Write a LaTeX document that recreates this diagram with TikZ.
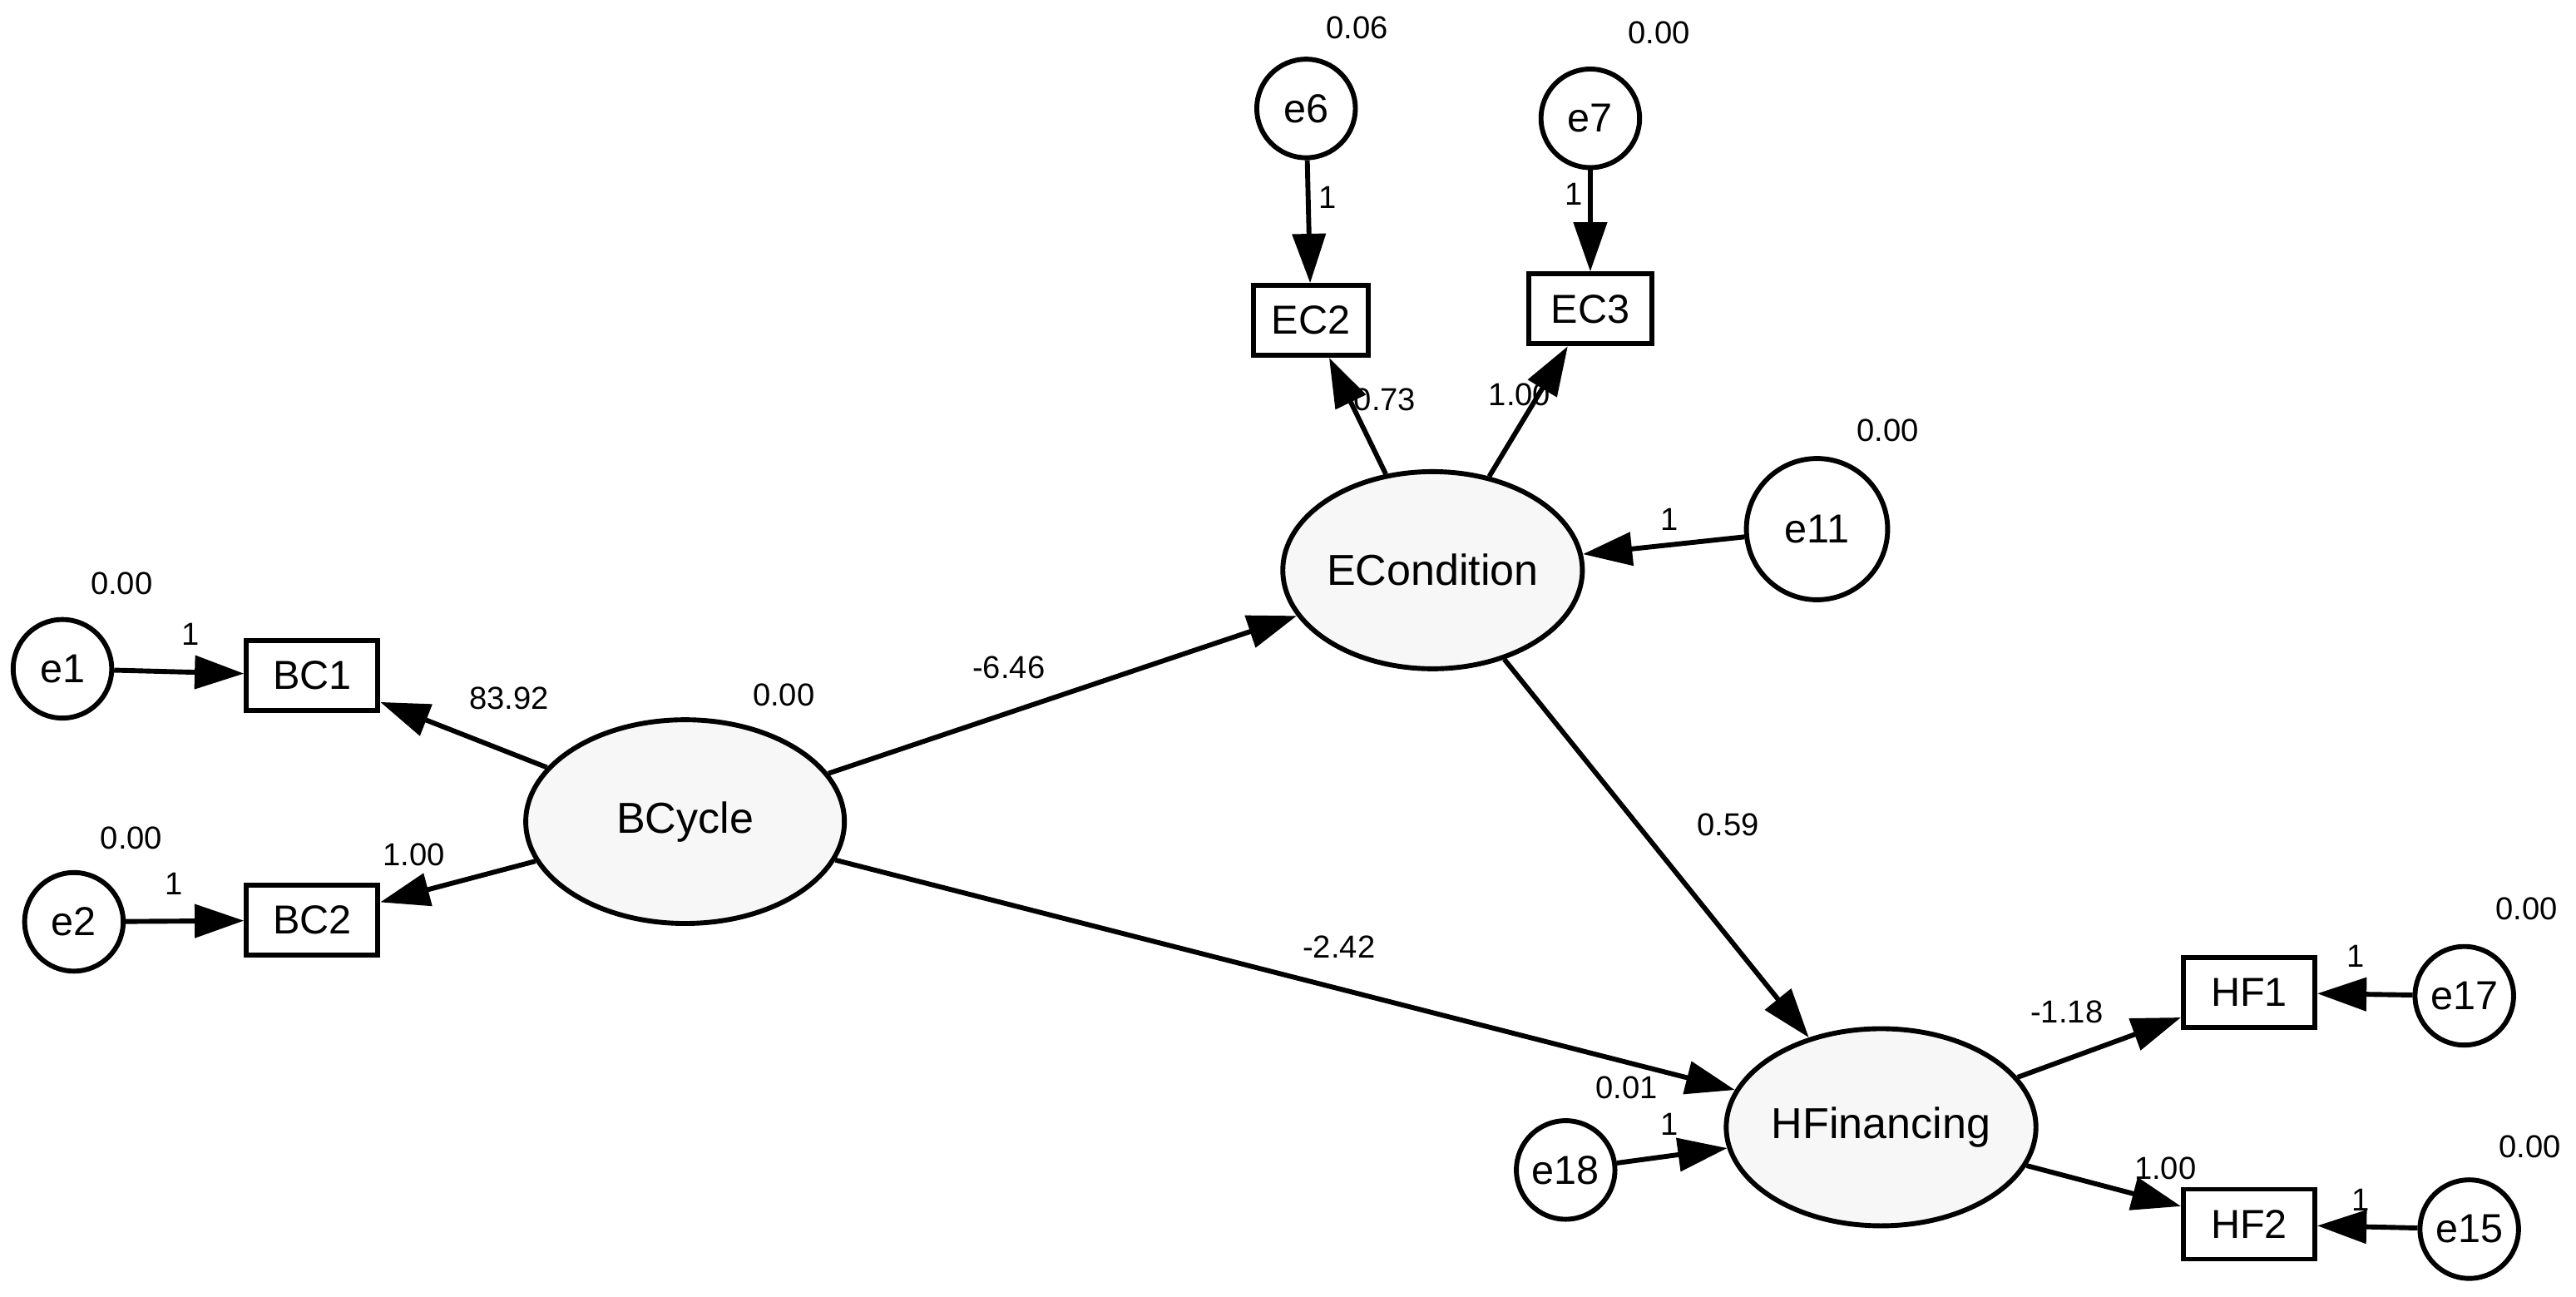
\documentclass[tikz,border=0pt]{standalone}
\usepackage{fontspec}
\setmainfont{Liberation Sans}
\usetikzlibrary{arrows.meta,shapes.geometric}

\tikzset{
  err/.style={circle, draw, line width=1.7pt, fill=white, minimum size=1.2cm, inner sep=0pt, font=\fontsize{14}{16}\selectfont},
  obs/.style={rectangle, draw, line width=1.7pt, fill=white, minimum width=1.6cm, minimum height=0.85cm, inner sep=0pt, font=\fontsize{14}{16}\selectfont},
  lat/.style={ellipse, draw, line width=1.7pt, fill=black!3, inner sep=0pt, font=\fontsize{15}{17}\selectfont},
  arr/.style={line width=1.7pt, -{Triangle[length=0.6cm,width=0.4cm]}},
  lbl/.style={font=\fontsize{11}{13}\selectfont, inner sep=0pt}
}

\begin{document}
\begin{tikzpicture}[x=0.02cm, y=-0.02cm]
  \useasboundingbox (0,0) rectangle (1568,789.3);

  % latent variables
  \node[lat, minimum width=3.88cm, minimum height=2.48cm] (bcycle) at (417,500) {BCycle};
  \node[lat, minimum width=3.44cm, minimum height=2.4cm] (econd) at (872,347) {ECondition};
  \node[lat, minimum width=3.52cm, minimum height=2.4cm] (hfin) at (1145,686) {HFinancing};

  % observed variables
  \node[obs] (bc1) at (190,411) {BC1};
  \node[obs] (bc2) at (190,560) {BC2};
  \node[obs, minimum width=1.4cm] (ec2) at (798,195) {EC2};
  \node[obs, minimum width=1.5cm] (ec3) at (968,188) {EC3};
  \node[obs] (hf1) at (1369,604) {HF1};
  \node[obs] (hf2) at (1369,745) {HF2};

  % error terms
  \node[err] (e1) at (38,407) {e1};
  \node[err] (e2) at (45,561) {e2};
  \node[err] (e6) at (795,66) {e6};
  \node[err] (e7) at (968,72) {e7};
  \node[err, minimum size=1.72cm] (e11) at (1106,322) {e11};
  \node[err] (e18) at (953,712) {e18};
  \node[err] (e17) at (1500,606) {e17};
  \node[err] (e15) at (1503,748) {e15};

  % paths
  \draw[arr] (e1) -- (bc1);
  \draw[arr] (e2) -- (bc2);
  \draw[arr] (bcycle) -- (bc1);
  \draw[arr] (bcycle) -- (bc2);
  \draw[arr] (e6) -- (ec2);
  \draw[arr] (e7) -- (ec3);
  \draw[arr] (econd) -- (ec2);
  \draw[arr] (econd) -- (ec3);
  \draw[arr] (e11) -- (econd);
  \draw[arr] (bcycle) -- (econd);
  \draw[arr] (bcycle) -- (hfin);
  \draw[arr] (econd) -- (hfin);
  \draw[arr] (e18) -- (hfin);
  \draw[arr] (hfin) -- (hf1);
  \draw[arr] (hfin) -- (hf2);
  \draw[arr] (e17) -- (hf1);
  \draw[arr] (e15) -- (hf2);

  % variances
  \node[lbl] (v6) at (826,17) {0.06};
  \node[lbl] (v7) at (1010,20) {0.00};
  \node[lbl] (v11) at (1149,262) {0.00};
  \node[lbl] (v1) at (74,355) {0.00};
  \node[lbl] (v2) at (80,510) {0.00};
  \node[lbl] (vbc) at (477,423) {0.00};
  \node[lbl] (v17) at (1538,553) {0.00};
  \node[lbl] (v15) at (1540,698) {0.00};
  \node[lbl] (v18) at (990,662) {0.01};

  % weights
  \node[lbl] at (808,120) {1};
  \node[lbl] at (958,118) {1};
  \node[lbl] at (843,243) {0.73};
  \node[lbl] at (925,240) {1.00};
  \node[lbl] at (1016,316) {1};
  \node[lbl] at (116,386) {1};
  \node[lbl] at (310,425) {83.92};
  \node[lbl] at (252,520) {1.00};
  \node[lbl] at (106,538) {1};
  \node[lbl] at (614,406) {-6.46};
  \node[lbl] at (1052,502) {0.59};
  \node[lbl] at (815,576) {-2.42};
  \node[lbl] at (1016,684) {1};
  \node[lbl] at (1258,616) {-1.18};
  \node[lbl] at (1434,582) {1};
  \node[lbl] at (1318,711) {1.00};
  \node[lbl] at (1437,730) {1};
\end{tikzpicture}
\end{document}
